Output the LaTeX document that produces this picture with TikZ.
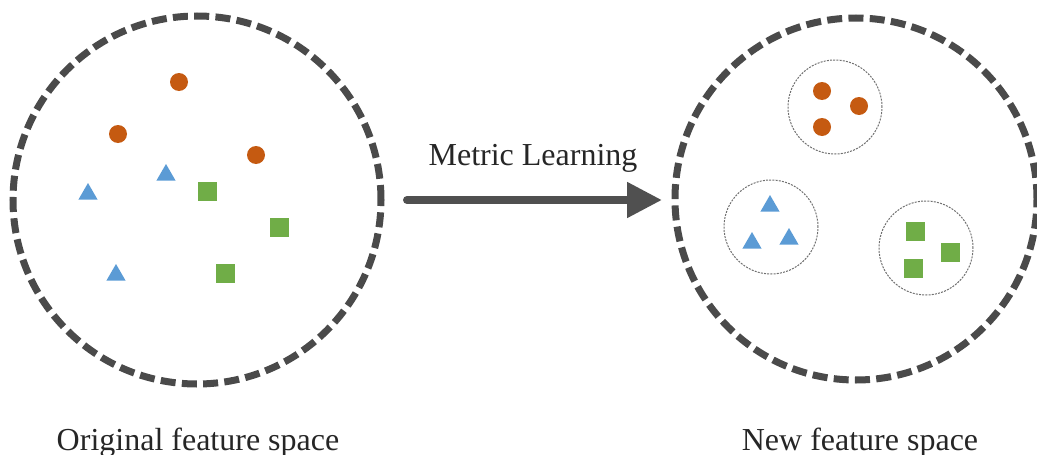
\documentclass[tikz,border=0pt]{standalone}
\usepackage{fontspec}
\setmainfont{Liberation Serif}
\usetikzlibrary{shapes.geometric,arrows.meta}
\definecolor{dotorange}{HTML}{C55A11}
\definecolor{triblue}{HTML}{5B9BD5}
\definecolor{sqgreen}{HTML}{70AD47}
\definecolor{ringgray}{HTML}{4A4A4A}
\definecolor{arrowgray}{HTML}{505050}
\definecolor{clustergray}{HTML}{707070}
\tikzset{
  bigring/.style={circle, draw=ringgray, line width=7pt, dash pattern=on 15pt off 6.3pt, inner sep=0pt, minimum size=#1},
  clusterring/.style={circle, draw=clustergray, line width=1pt, dash pattern=on 2pt off 1.2pt, inner sep=0pt, minimum size=94pt},
  dotpt/.style={circle, fill=dotorange, inner sep=0pt, minimum size=18pt},
  tript/.style={regular polygon, regular polygon sides=3, fill=triblue, inner sep=0pt, minimum size=22pt},
  sqpt/.style={rectangle, fill=sqgreen, inner sep=0pt, minimum size=19pt},
  lbl/.style={font=\fontsize{32}{38}\selectfont, text=black!85, inner sep=0pt, anchor=base},
}
\begin{document}
\begin{tikzpicture}[x=1pt,y=-1pt]
\useasboundingbox (0,0) rectangle (1037,455);
% left space
\node[bigring=368pt] (L) at (197,200) {};
\node[dotpt] (l1) at (179,82) {};
\node[dotpt] (l2) at (118,134) {};
\node[dotpt] (l3) at (256,155) {};
\node[tript] (l4) at (166,175) {};
\node[tript] (l5) at (88,194) {};
\node[tript] (l6) at (116,275) {};
\node[sqpt] (l7) at (207,191) {};
\node[sqpt] (l8) at (279,227) {};
\node[sqpt] (l9) at (225,273) {};
% right space
\node[bigring=362pt] (R) at (856,199) {};
\node[clusterring] (c1) at (835,107) {};
\node[clusterring] (c2) at (771,227) {};
\node[clusterring] (c3) at (926,248) {};
\node[dotpt] (r1) at (822,91) {};
\node[dotpt] (r2) at (859,106) {};
\node[dotpt] (r3) at (822,127) {};
\node[tript] (r4) at (770,206) {};
\node[tript] (r5) at (752,243) {};
\node[tript] (r6) at (789,239) {};
\node[sqpt] (r7) at (915,231) {};
\node[sqpt] (r8) at (950,252) {};
\node[sqpt] (r9) at (913,268) {};
% arrow
\coordinate (as) at (407,200);
\coordinate (ae) at (662,200);
\draw[arrowgray, line width=8pt, line cap=round, -{Triangle[length=35pt,width=34pt]}] (as) -- (ae);
\node[lbl] (ml) at (533,165) {Metric Learning};
% captions
\node[lbl] (t1) at (198,450) {Original feature space};
\node[lbl] (t2) at (860,450) {New feature space};
\end{tikzpicture}
\end{document}
